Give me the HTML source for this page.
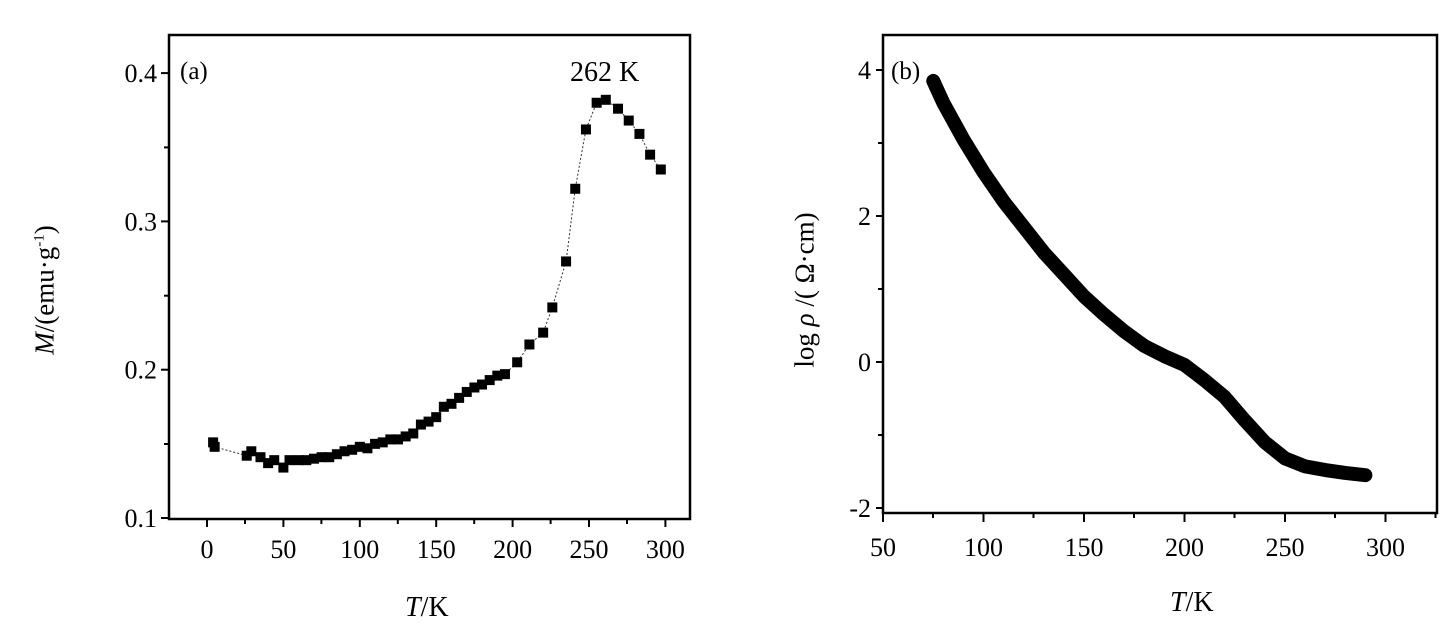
<!DOCTYPE html>
<html><head><meta charset="utf-8"><style>
body{margin:0;background:#fff;}
svg{display:block;font-family:"Liberation Serif",serif;}
</style></head><body>
<svg id="c" width="1440" height="641" viewBox="0 0 1440 641"></svg>
<script>
const aT=[4,5,26,29,35,40,44,50,54,60,65,70,75,80,85,90,95,100,105,110,115,120,125,130,135,140,145,150,155,160,165,170,175,180,185,190,195,203,211,220,226,235,241,248,255,261,269,276,283,290,297];
const aM=[0.151,0.148,0.142,0.145,0.141,0.137,0.139,0.134,0.139,0.139,0.139,0.140,0.141,0.141,0.143,0.145,0.146,0.148,0.147,0.150,0.151,0.153,0.153,0.155,0.157,0.163,0.165,0.168,0.175,0.177,0.181,0.185,0.188,0.190,0.193,0.196,0.197,0.205,0.217,0.225,0.242,0.273,0.322,0.362,0.380,0.382,0.376,0.368,0.359,0.345,0.335];
const aXTicks=[0,50,100,150,200,250,300];
const aYTicks=[0.1,0.2,0.3,0.4];
const bT=[75,80,90,100,110,120,130,140,150,160,170,180,190,200,210,220,230,240,250,260,270,280,290];
const bR=[3.85,3.55,3.05,2.6,2.2,1.85,1.5,1.2,0.9,0.65,0.42,0.22,0.08,-0.04,-0.25,-0.48,-0.8,-1.1,-1.32,-1.43,-1.48,-1.52,-1.55];
const bXTicks=[50,100,150,200,250,300];
const bYTicks=[-2,0,2,4];
const NS="http://www.w3.org/2000/svg";
const svg=document.getElementById('c');
function mk(t,a,p){const e=document.createElementNS(NS,t);for(const k in a)e.setAttribute(k,a[k]);(p||svg).appendChild(e);return e;}
const ax=t=>207+(t-0)*1.528, ay=v=>518-(v-0.1)*1483;
const bx=t=>883+(t-50)*2.01, by=v=>362-v*73;
function frame(name,x0,y0,x1,y1){const r=mk('rect',{x:x0,y:y0,width:x1-x0,height:y1-y0,fill:'none',stroke:'#000','stroke-width':2.5});
}
frame('plot-frame-a',169,35,690,519);
frame('plot-frame-b',883,35,1437,513);
aXTicks.forEach(t=>{const x=ax(t);const l=mk('line',{x1:x,y1:519,x2:x,y2:527,stroke:'#000','stroke-width':2});
if(x+38<690)mk('line',{x1:x+38,y1:519,x2:x+38,y2:524,stroke:'#000','stroke-width':2});
const tx=mk('text',{x:x,y:558,'font-size':26,'text-anchor':'middle'});tx.textContent=t;});
aYTicks.forEach(v=>{const y=ay(v);const l=mk('line',{x1:161,y1:y,x2:169,y2:y,stroke:'#000','stroke-width':2});
if(v<0.4)mk('line',{x1:164,y1:y-74,x2:169,y2:y-74,stroke:'#000','stroke-width':2});
const tx=mk('text',{x:157,y:y+9,'font-size':26,'text-anchor':'end'});tx.textContent=v.toFixed(1);});
bXTicks.forEach(t=>{const x=bx(t);const l=mk('line',{x1:x,y1:513,x2:x,y2:522,stroke:'#000','stroke-width':2});
if(x+50<1437)mk('line',{x1:x+50,y1:513,x2:x+50,y2:518,stroke:'#000','stroke-width':2});
const tx=mk('text',{x:x,y:556,'font-size':26,'text-anchor':'middle'});tx.textContent=t;});
bYTicks.forEach(v=>{const y=by(v);const l=mk('line',{x1:876,y1:y,x2:883,y2:y,stroke:'#000','stroke-width':2});
if(v<4)mk('line',{x1:878,y1:y-73,x2:883,y2:y-73,stroke:'#000','stroke-width':2});
const tx=mk('text',{x:871,y:y+9,'font-size':26,'text-anchor':'end'});tx.textContent=v;});
const pa=mk('polyline',{points:aT.map((t,i)=>ax(t)+','+ay(aM[i])).join(' '),fill:'none',stroke:'#333','stroke-width':1,'stroke-dasharray':'2,2'});

aT.forEach((t,i)=>{const r=mk('rect',{x:ax(t)-5,y:ay(aM[i])-5,width:10,height:10,fill:'#000'});
});
const pb=mk('polyline',{points:bT.map((t,i)=>bx(t)+','+by(bR[i])).join(' '),fill:'none',stroke:'#000','stroke-width':14,'stroke-linecap':'round','stroke-linejoin':'round'});

</script>
<div style="position:absolute;left:0;top:0;width:1440px;height:641px;pointer-events:none;font-family:'Liberation Serif',serif;">
<div style="position:absolute;left:180px;top:58px;font-size:25px;">(a)</div>
<div style="position:absolute;left:570px;top:57px;font-size:28px;">262 K</div>
<div style="position:absolute;left:891px;top:58px;font-size:25px;">(b)</div>
<div style="position:absolute;left:405px;top:592px;font-size:28px;"><i>T</i>/K</div>
<div style="position:absolute;left:1170px;top:587px;font-size:28px;"><i>T</i>/K</div>
<div style="position:absolute;left:45px;top:290px;font-size:27px;white-space:nowrap;transform:translate(-50%,-50%) rotate(-90deg);"><i>M</i>/(emu·g<sup style="font-size:15px">-1</sup>)</div>
<div style="position:absolute;left:805px;top:290px;font-size:27px;white-space:nowrap;transform:translate(-50%,-50%) rotate(-90deg);">log <i>ρ</i> /( Ω·cm)</div>
</div>
</body></html>
